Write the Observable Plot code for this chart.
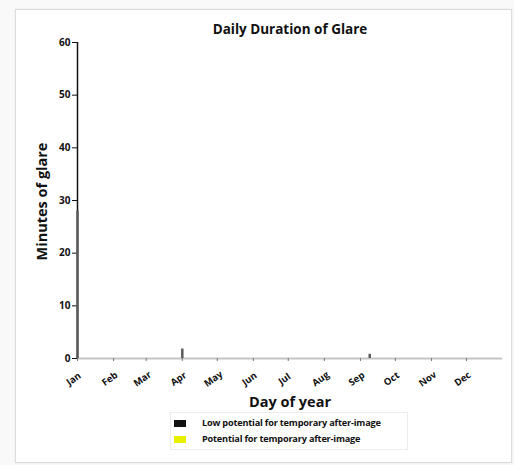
<!DOCTYPE html>
<html>
<head>
<meta charset="utf-8">
<script src="https://cdn.jsdelivr.net/npm/d3@7"></script>
<script src="https://cdn.jsdelivr.net/npm/@observablehq/plot@0.6"></script>
<style>
  html, body { margin: 0; padding: 0; background: #f9f9f9; width: 514px; height: 465px; overflow: hidden; }
  body { font-family: "Open Sans", "DejaVu Sans", sans-serif; position: relative; }
  #card { position: absolute; left: 15px; top: 9px; width: 495px; height: 452px; background: #fff; border: 1px solid #dcdcdc; box-shadow: 0 0 2px rgba(0,0,0,0.08); }
  #title { position: absolute; left: 190px; width: 200px; top: 20px; text-align: center; font-size: 13.5px; font-weight: bold; color: #111; }
  #chart { position: absolute; left: 15px; top: 30px; }
  #ylabel { position: absolute; left: -19px; top: 192px; width: 120px; text-align: center; font-size: 14.5px; font-weight: bold; color: #111; transform: rotate(-90deg); }
  #xlabel { position: absolute; left: 190px; width: 200px; top: 392px; text-align: center; font-size: 14.5px; font-weight: bold; color: #111; }
  #legend { position: absolute; left: 170px; top: 412px; width: 236px; height: 36px; border: 1px solid #ececec; background: #fff; }
  .item { position: absolute; left: 3px; font-size: 9.2px; font-weight: bold; color: #111; white-space: nowrap; letter-spacing: -0.2px; }
  .sw { display: inline-block; width: 12px; height: 7px; margin-right: 16px; vertical-align: middle; }
</style>
</head>
<body>
<div id="card"></div>
<div id="title">Daily Duration of Glare</div>
<div id="chart"></div>
<div id="ylabel">Minutes of glare</div>
<div id="xlabel">Day of year</div>
<div id="legend"></div>
<script>
// Month tick labels and their day-of-year positions
const monthLabels = ["Jan","Feb","Mar","Apr","May","Jun","Jul","Aug","Sep","Oct","Nov","Dec"];
const monthStartDays = [1,32,60,91,121,152,182,213,244,274,305,335];
// Y ticks
const yTicks = [0,10,20,30,40,50,60];
// Series: low potential for temporary after-image (day of year, minutes)
const lowDays = [1, 91, 252];
const lowMinutes = [28, 1.8, 0.8];
// Series: potential for temporary after-image (none visible)
const potDays = [];
const potMinutes = [];
// Legend entries
const seriesNames = ["Low potential for temporary after-image", "Potential for temporary after-image"];
const seriesColors = ["#111111", "#e8f000"];

const low = lowDays.map((d, i) => ({day: d, minutes: lowMinutes[i]}));
const pot = potDays.map((d, i) => ({day: d, minutes: potMinutes[i]}));
const months = monthStartDays.map((d, i) => ({day: d, label: monthLabels[i]}));

const plot = Plot.plot({
  width: 495,
  height: 370,
  marginLeft: 62,
  marginRight: 8,
  marginTop: 12,
  marginBottom: 42,
  style: {fontFamily: "'Open Sans', 'DejaVu Sans', sans-serif", fontSize: "10px", fontWeight: "bold", color: "#111", background: "transparent"},
  x: {type: "linear", domain: [1, 366], label: null},
  y: {domain: [0, 60], label: null},
  marks: [
    Plot.ruleY([0], {stroke: "#c4c4c4", strokeWidth: 2}),
    Plot.axisX({ticks: monthStartDays, tickSize: 3, stroke: "#777", tickFormat: () => "", label: null}),
    Plot.axisY({ticks: yTicks, tickSize: 5, tickPadding: 2, fontSize: 10, label: null}),
    Plot.text(months, {x: "day", frameAnchor: "bottom", dx: -2, dy: 23, rotate: -35, text: "label", fontSize: 9.5, fontWeight: "bold", fill: "#111"}),
    Plot.ruleX([1], {y1: 0, y2: 60, stroke: "#111", strokeWidth: 1.5}),
    Plot.ruleX(low, {x: "day", y1: 0, y2: "minutes", stroke: "#5a5a5a", strokeWidth: 2.5}),
    Plot.ruleX(pot, {x: "day", y1: 0, y2: "minutes", stroke: seriesColors[1], strokeWidth: 2.5})
  ]
});
document.getElementById("chart").appendChild(plot);

const legend = document.getElementById("legend");
seriesNames.forEach((name, i) => {
  const div = document.createElement("div");
  div.className = "item";
  div.style.top = (3 + i * 16) + "px";
  const sw = document.createElement("span");
  sw.className = "sw";
  sw.style.background = seriesColors[i];
  div.appendChild(sw);
  div.appendChild(document.createTextNode(name));
  legend.appendChild(div);
});
</script>
</body>
</html>
